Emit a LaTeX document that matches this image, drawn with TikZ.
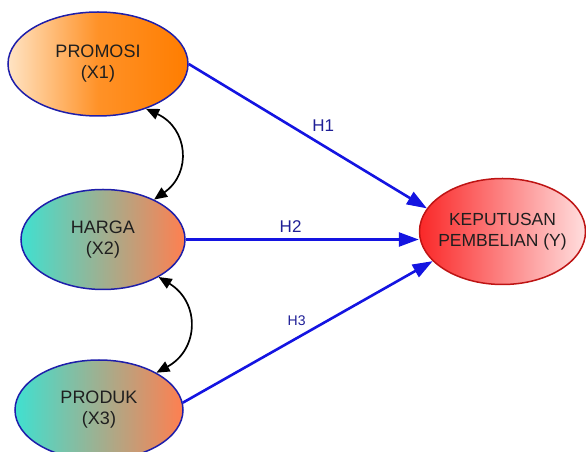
\documentclass[tikz,border=0pt]{standalone}
\usepackage{fontspec}
\setmainfont{Liberation Sans}
\usepackage{tikz}
\usetikzlibrary{arrows.meta, shapes.geometric, positioning, calc}

\definecolor{rimblue}{RGB}{30,30,170}
\definecolor{pathblue}{RGB}{20,20,225}
\definecolor{labelblue}{RGB}{30,30,150}
\definecolor{peach}{RGB}{255,228,196}
\definecolor{deeporange}{RGB}{255,125,0}
\definecolor{turq}{RGB}{64,224,208}
\definecolor{coral}{RGB}{255,127,80}
\definecolor{hotred}{RGB}{250,40,40}
\definecolor{palered}{RGB}{255,222,222}
\definecolor{rimred}{RGB}{190,20,20}

\begin{document}
\begin{tikzpicture}
            [auto, node distance=70pt, semithick,
            latent/.style={ellipse, align=center, draw=rimblue, line width=1.5pt,
                inner sep=0pt, text=black!88,
                font=\fontsize{18}{21}\selectfont},
            path/.style={->, >={Triangle[length=20pt,width=14pt]}, draw=pathblue, line width=2.6pt},
            cov/.style={<->, >={Triangle[length=13pt,width=11pt]}, black, line width=1.7pt,
                bend left=60, looseness=1.3},
            hlabel/.style={text=labelblue, font=\fontsize{17}{19}\selectfont}]

            \useasboundingbox (0,0) rectangle (586pt,452pt);

            \node[latent, minimum width=180pt, minimum height=104pt,
                  left color=peach, right color=deeporange, middle color=deeporange!80!peach]
                  (x1) at (98pt,388pt) {PROMOSI\\(X1)};
            \node[latent, minimum width=164pt, minimum height=100pt,
                  left color=turq, right color=coral]
                  (x2) [below=72pt of x1, xshift=5pt] {HARGA\\(X2)};
            \node[latent, minimum width=168pt, minimum height=100pt,
                  left color=turq, right color=coral]
                  (x3) [below=69pt of x2, xshift=-4pt] {PRODUK\\(X3)};
            \node[latent, draw=rimred, minimum width=166pt, minimum height=106pt,
                  inner sep=-14pt, font=\fontsize{17.5}{21}\selectfont,
                  left color=hotred, right color=palered]
                  (y) [right=233pt of x2, yshift=8pt] {KEPUTUSAN\\PEMBELIAN (Y)};

            \draw[path] (x1.east) -- node[hlabel, pos=0.5] {H1} (y.163);
            \draw[path] (x2.east) -- node[hlabel, pos=0.45, inner sep=6pt] {H2} (x2.east -| y.west);
            \draw[path] (x3.5) -- node[hlabel, pos=0.51, font=\fontsize{14}{16}\selectfont] {H3} (y.-157);

            \draw[cov] (x1.-43) to (x2.38);
            \draw[cov] (x2.-34) to (x3.33);

        \end{tikzpicture}
\end{document}
